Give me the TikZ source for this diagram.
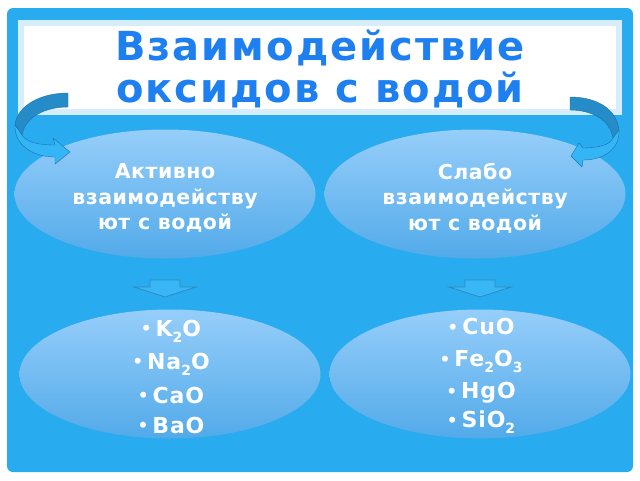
\documentclass[tikz,border=0pt]{standalone}
\usepackage{fontspec}
\setmainfont{DejaVu Sans}
\newfontfamily\headfont{DejaVu Sans}[LetterSpace=5]
\newfontfamily\spacedfont{DejaVu Sans}[LetterSpace=2.5]
\newfontfamily\listfont{DejaVu Sans}[LetterSpace=4]
\usetikzlibrary{shapes.geometric}
\definecolor{frame colour}{RGB}{41,171,239}
\definecolor{title colour}{RGB}{30,128,240}
\definecolor{border colour}{RGB}{214,237,251}
\definecolor{oval top colour}{RGB}{150,206,250}
\definecolor{oval bottom colour}{RGB}{82,170,233}
\definecolor{ribbon back colour}{RGB}{38,140,200}
\definecolor{ribbon front colour}{RGB}{52,182,246}
\definecolor{ribbon edge colour}{RGB}{30,112,168}
\definecolor{drop fill colour}{RGB}{56,182,246}
\definecolor{drop edge colour}{RGB}{48,138,192}
% Lowered small index for the formulas
\newcommand\chemsub[1]{\raisebox{-6pt}{\fontsize{14}{14}\selectfont #1}}
\newcommand\oxide[1]{%
    \raisebox{1.5pt}{\fontsize{17}{17}\selectfont\textbullet}\hspace{4pt}#1}
\tikzset{
    % The background and the heading
    frame/.style={fill=frame colour, rounded corners=6pt},
    title box/.style={fill=white, draw=border colour, line width=6pt},
    title text/.style={
        text=title colour, align=center,
        font=\headfont\bfseries\fontsize{40}{42}\selectfont},
%
    % Shaded ovals and the white text on them
    oval/.style={
        ellipse, inner sep=0, minimum width=301pt, minimum height=129pt,
        top color=oval top colour, bottom color=oval bottom colour},
    oval text/.style={
        text=white, align=center,
        font=\spacedfont\bfseries\fontsize{20.5}{25.5}\selectfont},
    list text/.style={
        text=white, align=center,
        font=\listfont\bfseries\fontsize{22}{32}\selectfont},
%
    % Curved ribbon arrows, back and front faces
    ribbon back/.style={
        fill=ribbon back colour, draw=ribbon edge colour, line join=round},
    ribbon front/.style={
        fill=ribbon front colour, draw=ribbon edge colour, line join=round},
%
    pics/down arrow/.style={
        code={
            \draw [fill=drop fill colour, draw=drop edge colour, thick]
                (-15,-8) -- (15,-8) -- (15,-1) -- (31,-1) -- (0,9)
                -- (-31,-1) -- (-15,-1) -- cycle;}},
}

\begin{document}
\begin{tikzpicture}[
    x=1pt, y=-1pt]

\fill [white] (0,0) rectangle (640,480);
\useasboundingbox (0,0) rectangle (640,480);
\path [frame] (7,8) rectangle (633,472);
\path [title box] (21,22.5) rectangle (619,111.5);

\node [title text] (title) at (320,68.5) {Взаимодействие\\оксидов с водой};

\node [oval] (active) at (165,194) {};
\node [oval] (weak) at (475,194) {};
\node [oval] (active list) at (170,374) {};
\node [oval] (weak list) at (480,374) {};

\node [oval text] (active text) at (165,198)
    {Активно\\взаимодейству\\ют с водой};
\node [oval text] (weak text) at (475,198)
    {Слабо\\взаимодейству\\ют с водой};

\node [list text] (active oxides) at (171,376.5)
    {\oxide{K\chemsub{2}O}\\[1pt]\oxide{Na\chemsub{2}O}\\[2pt]%
     \oxide{CaO}\\[-2pt]\oxide{BaO}};
\node [list text] (weak oxides) at (481,376)
    {\oxide{CuO}\\\oxide{Fe\chemsub{2}O\chemsub{3}}\\%
     \oxide{HgO}\\[-3pt]\oxide{SiO\chemsub{2}}};

\pic (active drop) at (165,288) {down arrow};
\pic (weak drop) at (480,288) {down arrow};

% left ribbon
\path [ribbon back] (68,93) .. controls (40,93) and (17,106) .. (15,125)
    -- (22,135) .. controls (25,117) and (45,107) .. (68,107) -- cycle;
\path [ribbon front] (15,125) .. controls (14,145) and (33,157) .. (55,157)
    -- (55,164) -- (70,152) -- (53,138) -- (55,145)
    .. controls (38,145) and (26,142) .. (22,135) -- cycle;

% right ribbon
\path [ribbon back] (570,97) .. controls (598,97) and (617,110) .. (619,130)
    -- (613,138) .. controls (610,120) and (592,110) .. (570,110) -- cycle;
\path [ribbon front] (619,130) .. controls (620,148) and (605,160) .. (583,160)
    -- (582,167) -- (571,156) -- (579,143) -- (583,148)
    .. controls (598,148) and (610,145) .. (613,138) -- cycle;

\end{tikzpicture}
\end{document}
